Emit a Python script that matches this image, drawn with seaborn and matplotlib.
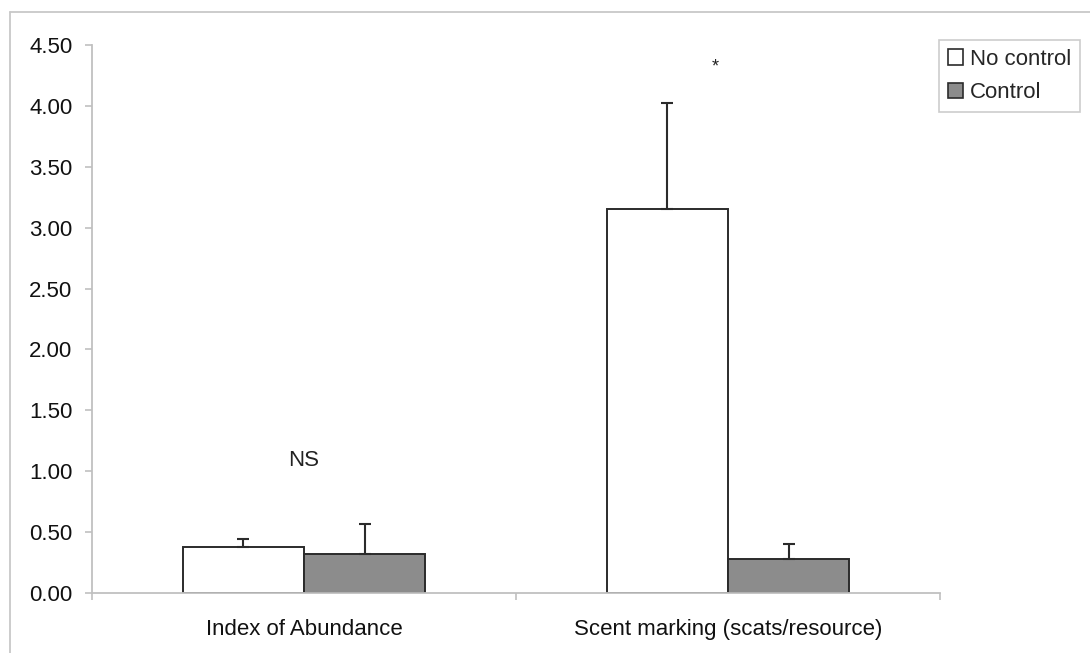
import matplotlib
matplotlib.use("Agg")
import matplotlib.pyplot as plt
from matplotlib.lines import Line2D
from matplotlib.patches import Patch
import numpy as np
import pandas as pd
import seaborn as sns

# Data
categories = ["Index of Abundance", "Scent marking (scats/resource)"]
groups = ["No control", "Control"]
no_control_mean = [0.38, 3.15]
control_mean = [0.32, 0.28]
no_control_se = [0.06, 0.87]
control_se = [0.25, 0.12]
annotations = ["NS", "*"]
annotation_y = [1.09, 4.32]
y_ticks = [0.0, 0.5, 1.0, 1.5, 2.0, 2.5, 3.0, 3.5, 4.0, 4.5]

df = pd.DataFrame({
    "category": categories * 2,
    "group": [groups[0]] * 2 + [groups[1]] * 2,
    "value": no_control_mean + control_mean,
})
errors = {groups[0]: no_control_se, groups[1]: control_se}

sns.set_theme(style="white")
plt.rcParams["font.family"] = ["Liberation Sans", "DejaVu Sans"]
plt.rcParams["font.size"] = 16

fill_colors = {groups[0]: "#ffffff", groups[1]: "#8c8c8c"}
edge = "#2b2b2b"
axis_gray = "#c0c0c0"

fig = plt.figure(figsize=(10.9, 6.53), dpi=100)
ax = fig.add_axes([92 / 1090, 1 - 593 / 653, (940 - 92) / 1090, (593 - 45) / 653])

sns.barplot(data=df, x="category", y="value", hue="group", order=categories,
            hue_order=groups, palette=fill_colors, width=0.571, errorbar=None,
            edgecolor=edge, linewidth=1.4, legend=False, ax=ax)

# Upper-only standard error bars, placed on the drawn bars
for container, g in zip(ax.containers, groups):
    for bar, se in zip(container.patches, errors[g]):
        xc = bar.get_x() + bar.get_width() / 2
        h = bar.get_height()
        ax.errorbar([xc], [h], yerr=[[0], [se]], fmt="none", ecolor=edge,
                    elinewidth=1.5, capsize=4, capthick=1.5, zorder=3)

# Significance labels
for i, (txt, yv) in enumerate(zip(annotations, annotation_y)):
    xpos = i if txt != "*" else i - 0.03
    ax.text(xpos, yv, txt, ha="center", va="center", fontsize=16 if txt != "*" else 13,
            color="#222222")

ax.set_xlim(-0.5, 1.5)
ax.set_ylim(0, 4.5)
ax.set_yticks(y_ticks)
ax.set_yticklabels([f"{v:.2f}" for v in y_ticks])
ax.set_xlabel("")
ax.set_ylabel("")

for side in ["top", "right"]:
    ax.spines[side].set_visible(False)
for side in ["left", "bottom"]:
    ax.spines[side].set_color(axis_gray)
    ax.spines[side].set_linewidth(1.3)

ax.tick_params(axis="y", which="major", direction="out", length=5, width=1.2,
               color=axis_gray, pad=9, labelsize=16, labelcolor="#111111", left=True)
ax.set_xticks([-0.5, 0.5, 1.5], minor=True)
ax.tick_params(axis="x", which="minor", direction="out", length=5, width=1.2,
               color=axis_gray, bottom=True)
ax.tick_params(axis="x", which="major", length=0, pad=19, labelsize=16,
               labelcolor="#111111")

# Legend
handles = [Patch(facecolor=fill_colors[g], edgecolor=edge, linewidth=1.2, label=g)
           for g in groups]
leg = fig.legend(handles=handles, loc="upper right",
                 bbox_to_anchor=(1080 / 1090, 1 - 40 / 653),
                 bbox_transform=fig.transFigure, fontsize=16, frameon=True,
                 fancybox=False, shadow=False, handlelength=0.7, handleheight=0.7,
                 handletextpad=0.3, labelspacing=0.55, borderpad=0.4,
                 borderaxespad=0)
leg.get_frame().set_edgecolor(axis_gray)
leg.get_frame().set_linewidth(1.2)

# Outer frame lines
fig.add_artist(Line2D([10 / 1090, 10 / 1090], [0, 1 - 12 / 653],
                      transform=fig.transFigure, color="#c8c8c8", lw=1.3))
fig.add_artist(Line2D([10 / 1090, 1], [1 - 12 / 653, 1 - 12 / 653],
                      transform=fig.transFigure, color="#c8c8c8", lw=1.3))

fig.savefig("out.png", dpi=100, facecolor="white")
